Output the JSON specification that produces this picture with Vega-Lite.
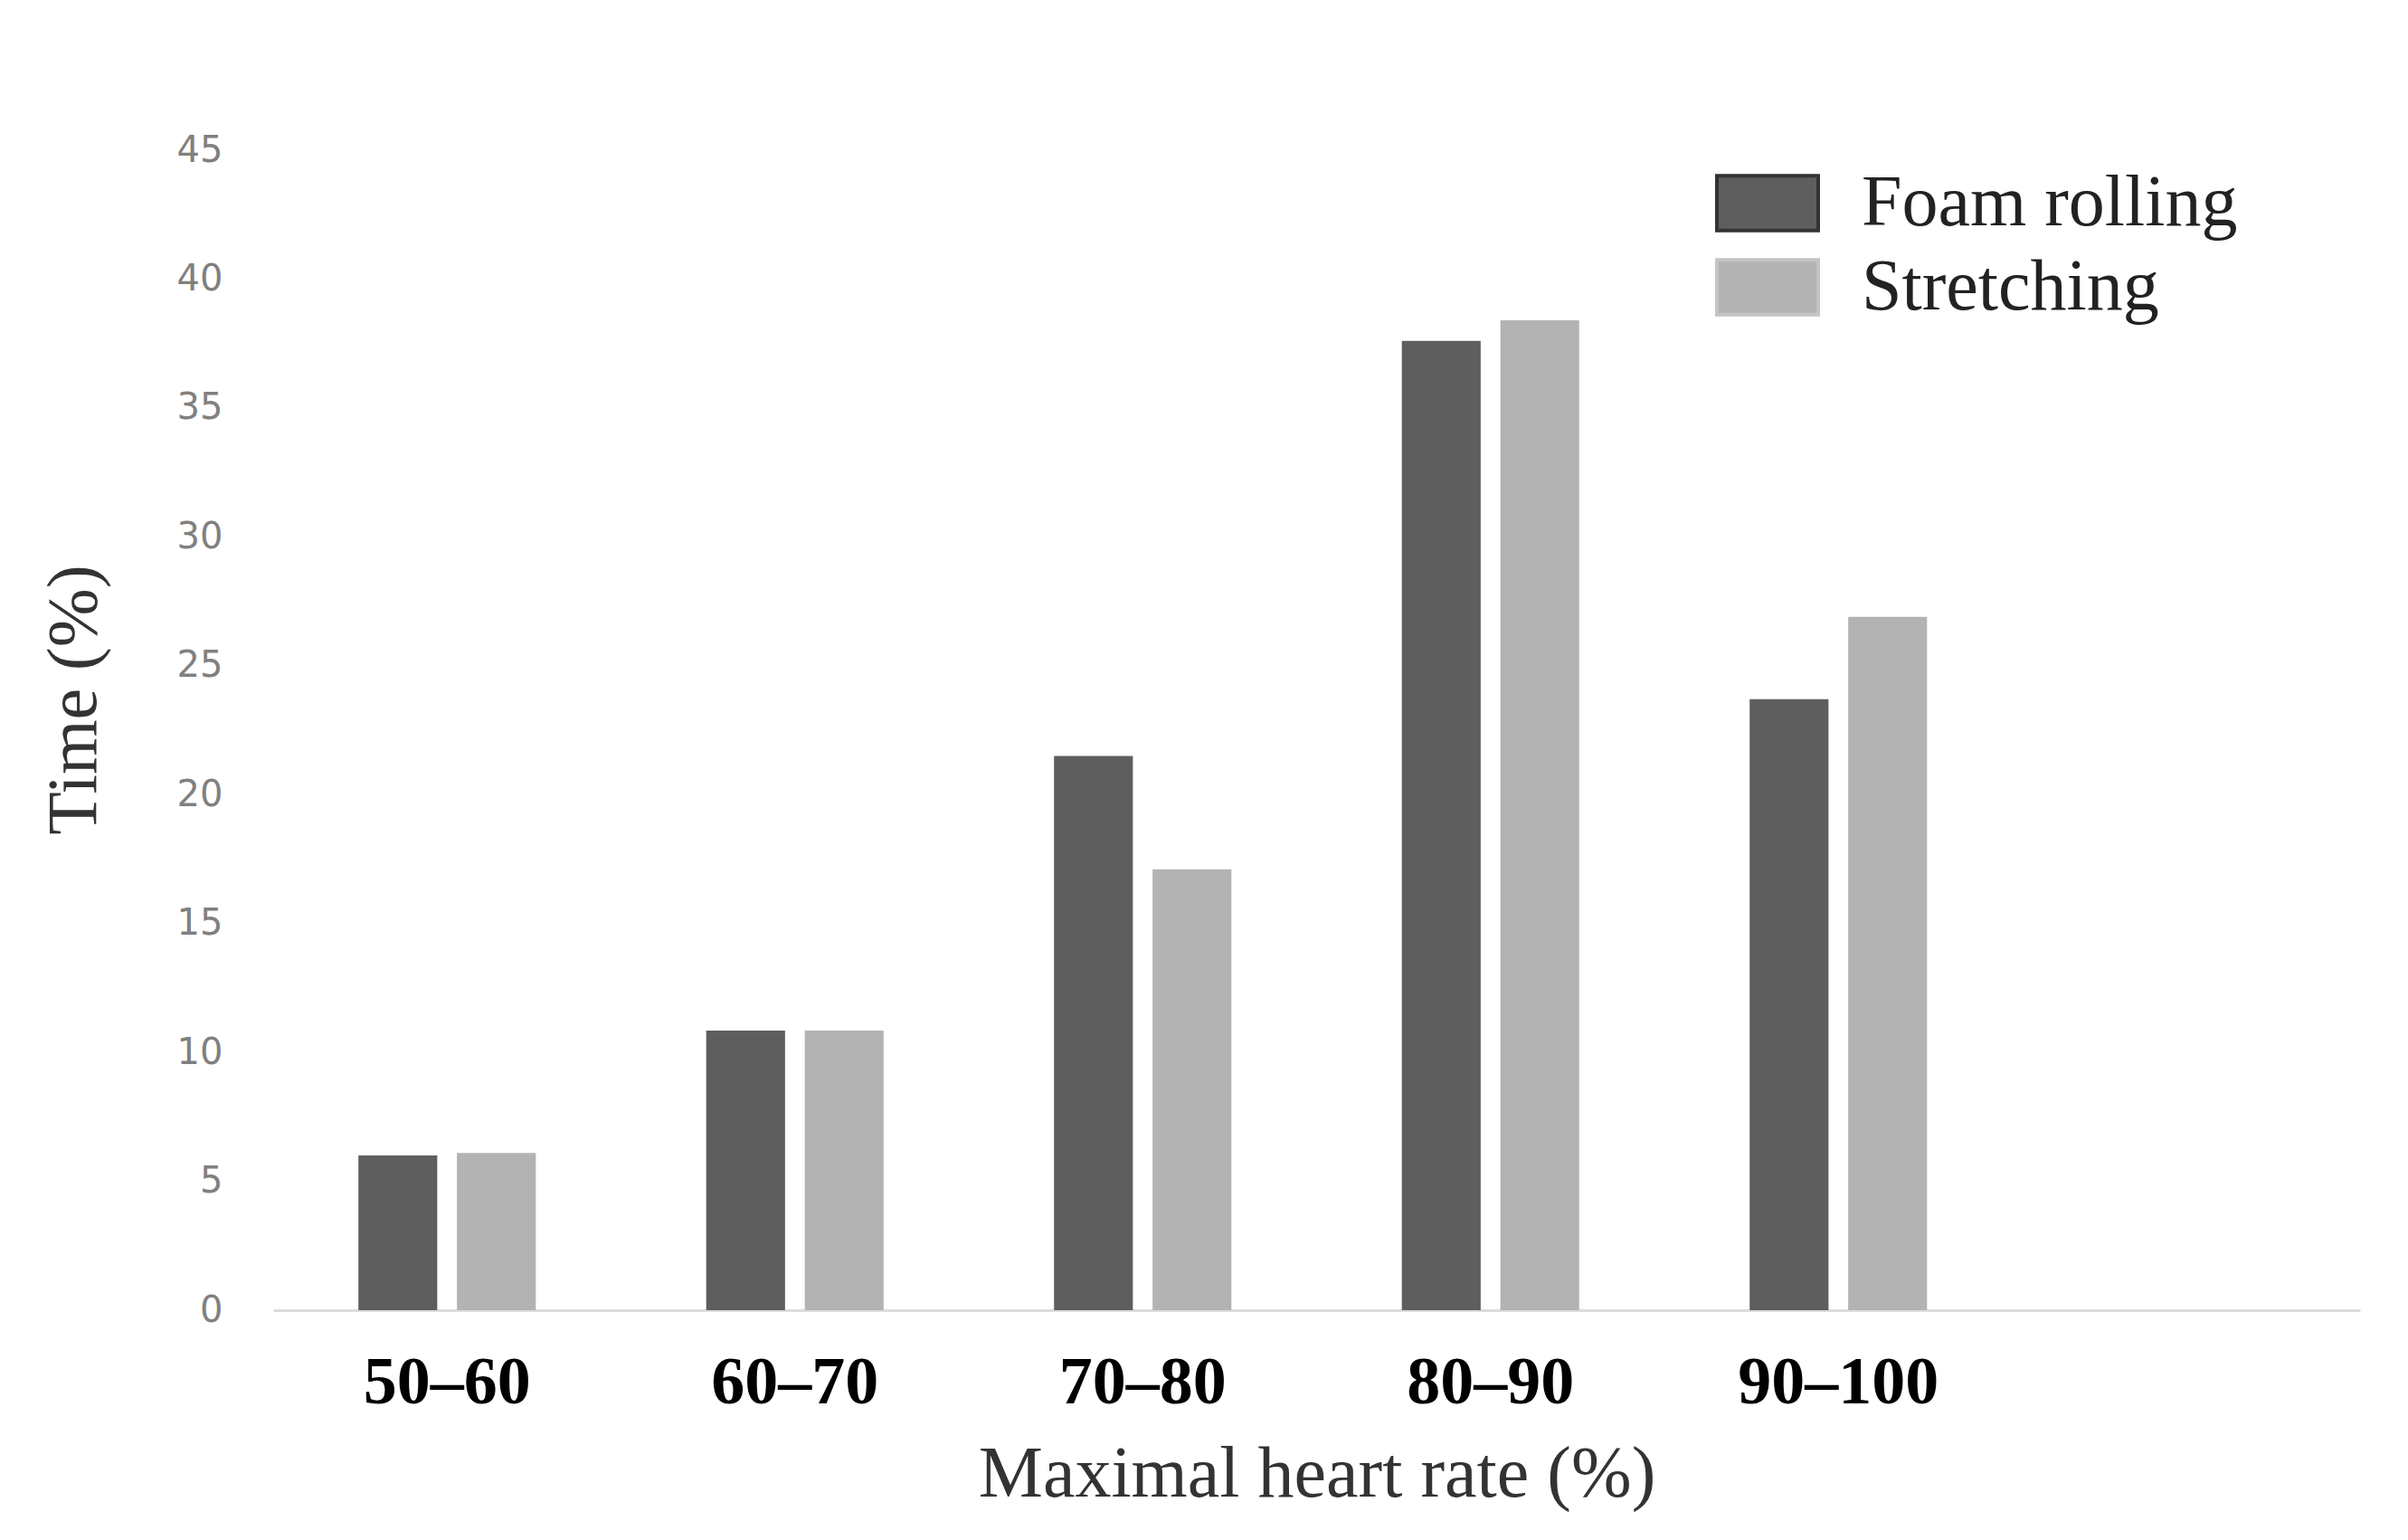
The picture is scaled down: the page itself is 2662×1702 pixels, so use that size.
{
  "$schema": "https://vega.github.io/schema/vega-lite/v6.json",
  "width": 2307,
  "height": 1282,
  "autosize": {"type": "none"},
  "padding": {"left": 302, "top": 166, "right": 53, "bottom": 254},
  "background": "white",
  "config": {"view": {"stroke": null}},
  "data": {
    "values": [
      {"range": "50–60", "group": "Foam rolling", "time": 6.0},
      {"range": "50–60", "group": "Stretching", "time": 6.1},
      {"range": "60–70", "group": "Foam rolling", "time": 10.85},
      {"range": "60–70", "group": "Stretching", "time": 10.85},
      {"range": "70–80", "group": "Foam rolling", "time": 21.5},
      {"range": "70–80", "group": "Stretching", "time": 17.1},
      {"range": "80–90", "group": "Foam rolling", "time": 37.6},
      {"range": "80–90", "group": "Stretching", "time": 38.4},
      {"range": "90–100", "group": "Foam rolling", "time": 23.7},
      {"range": "90–100", "group": "Stretching", "time": 26.9}
    ]
  },
  "mark": {"type": "bar"},
  "encoding": {
    "x": {
      "field": "range",
      "type": "nominal",
      "sort": null,
      "scale": {"domain": ["50–60", "60–70", "70–80", "80–90", "90–100", "blank"], "paddingInner": 0.49, "paddingOuter": 0.245},
      "axis": {
        "title": "Maximal heart rate (%)",
        "labelExpr": "datum.value == 'blank' ? '' : datum.label",
        "labelAngle": 0,
        "labelLimit": 0,
        "labelFont": "Liberation Serif",
        "labelFontWeight": "bold",
        "labelFontSize": 74,
        "labelColor": "#000000",
        "labelPadding": 44,
        "ticks": false,
        "domainColor": "#dcdcdc",
        "domainWidth": 3,
        "titleFont": "Liberation Serif",
        "titleFontWeight": "normal",
        "titleFontSize": 80,
        "titleColor": "#333333",
        "titlePadding": 25
      }
    },
    "xOffset": {
      "field": "group",
      "type": "nominal",
      "scale": {"paddingInner": 0.2, "paddingOuter": 0}
    },
    "y": {
      "field": "time",
      "type": "quantitative",
      "scale": {"domain": [0, 45]},
      "axis": {
        "title": "Time (%)",
        "values": [0, 5, 10, 15, 20, 25, 30, 35, 40, 45],
        "grid": false,
        "domain": false,
        "ticks": false,
        "labelFont": "DejaVu Sans",
        "labelFontSize": 40,
        "labelColor": "#808080",
        "labelPadding": 56,
        "titleFont": "Liberation Serif",
        "titleFontWeight": "normal",
        "titleFontSize": 78,
        "titleColor": "#333333",
        "titlePadding": 74,
        "titleY": 607
      }
    },
    "color": {
      "field": "group",
      "type": "nominal",
      "scale": {"domain": ["Foam rolling", "Stretching"], "range": ["#5e5e5e", "#b3b3b3"]},
      "legend": {
        "title": null,
        "orient": "none",
        "legendX": 1594,
        "legendY": 12,
        "padding": 0,
        "symbolType": "M-1,-0.54L1,-0.54L1,0.54L-1,0.54Z",
        "symbolSize": 12544,
        "symbolOpacity": 1,
        "symbolStrokeWidth": 4,
        "clipHeight": 93,
        "rowPadding": 0,
        "labelOffset": 46,
        "labelLimit": 0,
        "labelFont": "Liberation Serif",
        "labelFontSize": 80,
        "labelColor": "#222222",
        "encode": {
          "symbols": {
            "update": {
              "stroke": {"signal": "datum.label == 'Foam rolling' ? '#333333' : '#c4c4c4'"},
              "fill": {"signal": "datum.label == 'Foam rolling' ? '#757575' : '#c8c8c8'"}
            }
          }
        }
      }
    }
  }
}
